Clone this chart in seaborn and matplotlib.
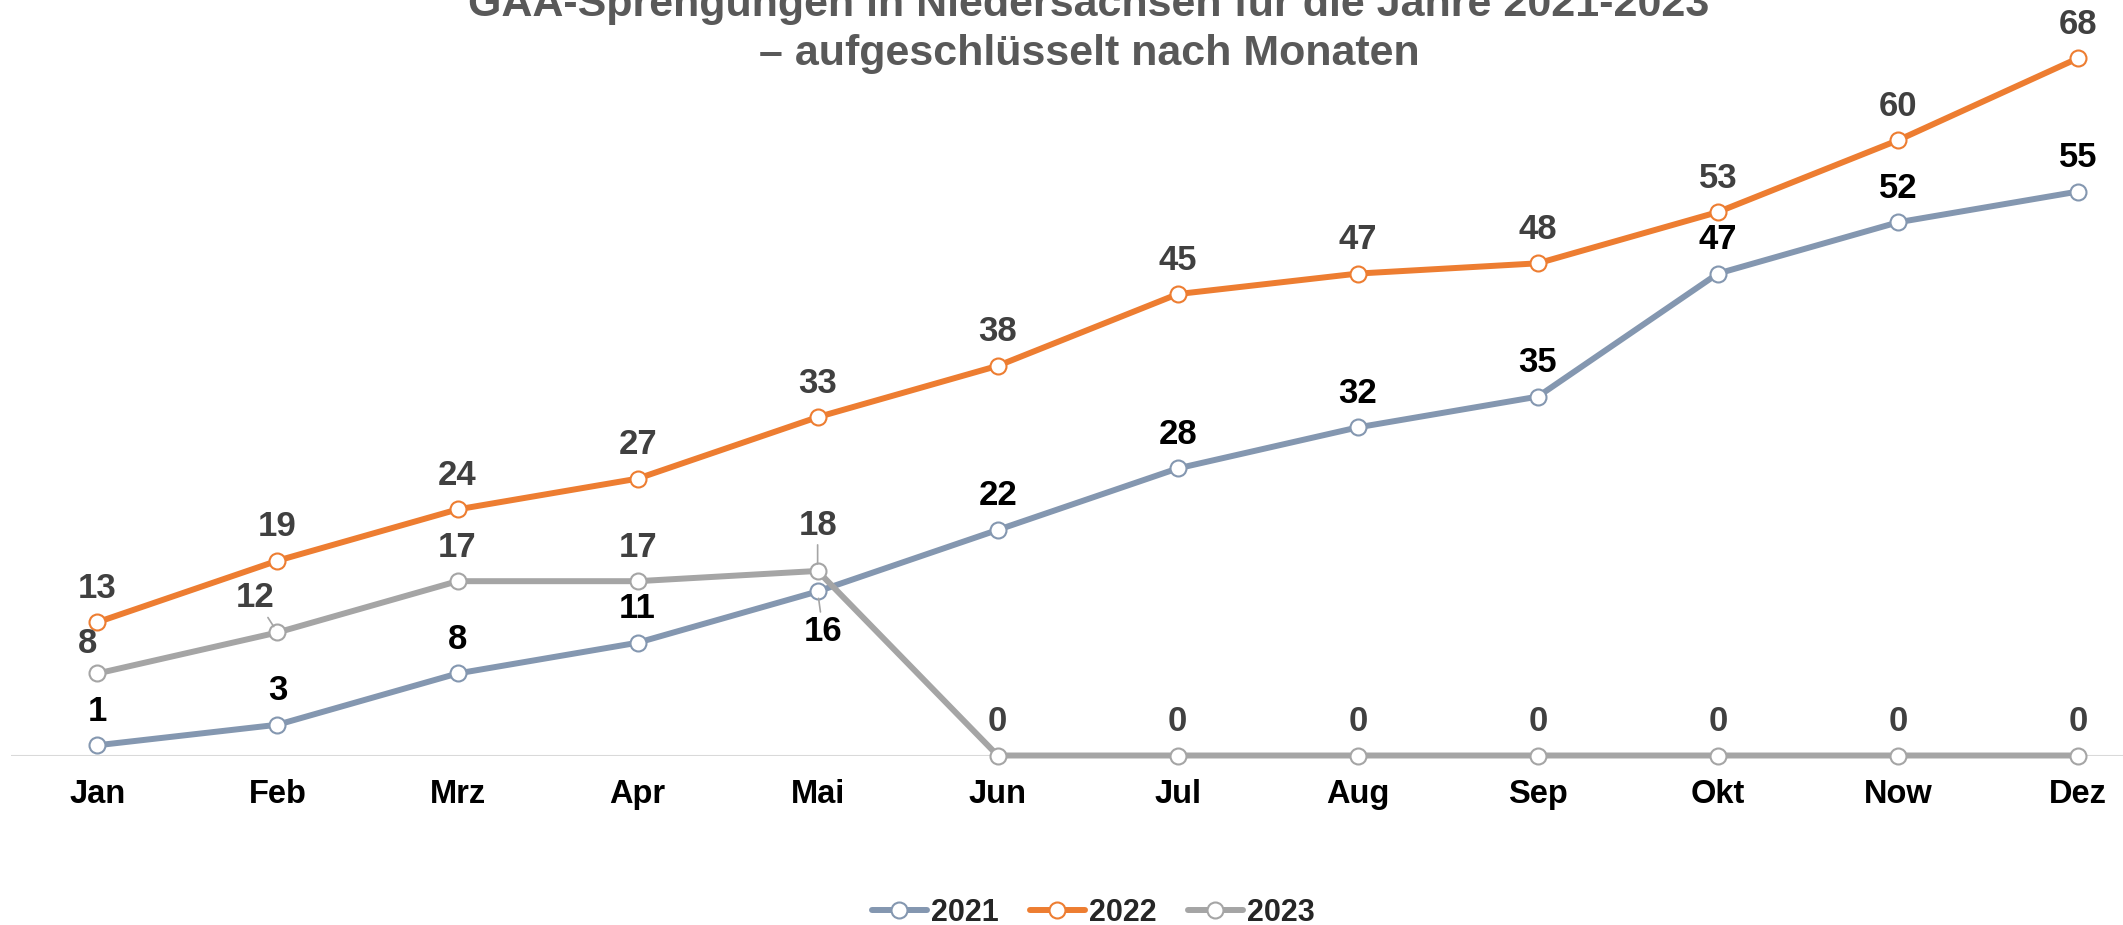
import numpy as np
import pandas as pd
import matplotlib.pyplot as plt
import seaborn as sns
from matplotlib.lines import Line2D

sns.set_style("white")
plt.rcParams['font.family'] = ['Liberation Sans', 'DejaVu Sans']

# Daten
monate = ['Jan', 'Feb', 'Mrz', 'Apr', 'Mai', 'Jun', 'Jul', 'Aug', 'Sep', 'Okt', 'Now', 'Dez']
jahre = ['2021', '2022', '2023']
werte_2021 = [1, 3, 8, 11, 16, 22, 28, 32, 35, 47, 52, 55]
werte_2022 = [13, 19, 24, 27, 33, 38, 45, 47, 48, 53, 60, 68]
werte_2023 = [8, 12, 17, 17, 18, 0, 0, 0, 0, 0, 0, 0]

farben = {'2021': '#8497B0', '2022': '#ED7D31', '2023': '#A5A5A5'}
label_farben = {'2021': '#000000', '2022': '#404040', '2023': '#404040'}

df = pd.DataFrame({
    'Monat': monate * 3,
    'Jahr': [j for j in jahre for _ in monate],
    'Anzahl': werte_2021 + werte_2022 + werte_2023,
})

fig = plt.figure(figsize=(21.23, 9.25), dpi=100)
ax = fig.add_axes([11 / 2123, (925 - 755.5) / 925, 1 - 11 / 2123, 755.5 / 925])

lw = 4.3
ms = 11.5
sns.lineplot(data=df, x='Monat', y='Anzahl', hue='Jahr', palette=farben,
             marker='o', markersize=ms, markerfacecolor='white',
             markeredgewidth=1.5, linewidth=lw, legend=False, sort=False, ax=ax)
for line in ax.lines:
    line.set_markeredgecolor(line.get_color())
    line.set_clip_on(False)

ax.axhline(0, color='#D9D9D9', lw=1.5, zorder=0)

ax.set_xlim(-0.48, 11.25)
ax.set_ylim(0, 73.68)
ax.set_xlabel('')
ax.set_ylabel('')
ax.set_yticks([])
ax.set_xticks(range(len(monate)))
ax.set_xticklabels(monate, fontsize=23.5, fontweight='bold', color='black')
ax.tick_params(axis='x', length=0, pad=17)
sns.despine(ax=ax, left=True, bottom=True)

# Beschriftungen der Datenpunkte (Versatz in pt)
sonder = {
    ('2023', 0): (-7, 21.5, False),
    ('2023', 1): (-16, 25, True),
    ('2023', 4): (0, 33, True),
    ('2021', 4): (4, -29, True),
}
reihen = {'2021': werte_2021, '2022': werte_2022, '2023': werte_2023}
for jahr, werte in reihen.items():
    for i, v in enumerate(werte):
        dx, dy, leader = sonder.get((jahr, i), (0, 24.5, False))
        kw = {}
        if leader:
            kw['arrowprops'] = dict(arrowstyle='-', color='#A5A5A5', lw=1.2,
                                    shrinkA=0, shrinkB=5)
        ax.annotate(str(v), xy=(i, v), xytext=(dx, dy), textcoords='offset points',
                    ha='center', va='center', fontsize=25, fontweight='bold',
                    color=label_farben[jahr], annotation_clip=False, **kw)

# Titel (oben abgeschnitten wie im Original)
fig.text(1089 / 2123, 1 - 16 / 925, 'GAA-Sprengungen in Niedersachsen für die Jahre 2021-2023',
         ha='center', va='baseline', fontsize=31, fontweight='bold', color='#595959')
fig.text(1089 / 2123, 1 - 65 / 925, '– aufgeschlüsselt nach Monaten',
         ha='center', va='baseline', fontsize=31, fontweight='bold', color='#595959')

handles = [Line2D([], [], color=farben[j], lw=lw, marker='o', markersize=ms,
                  markerfacecolor='white', markeredgecolor=farben[j], markeredgewidth=1.5)
           for j in jahre]
fig.legend(handles, jahre, loc='center', bbox_to_anchor=(0.515, 0.013), ncol=3,
           frameon=False, prop=dict(weight='bold', size=22), handlelength=1.8,
           handletextpad=0.15, columnspacing=1.0)

fig.savefig('out.png', dpi=100)
